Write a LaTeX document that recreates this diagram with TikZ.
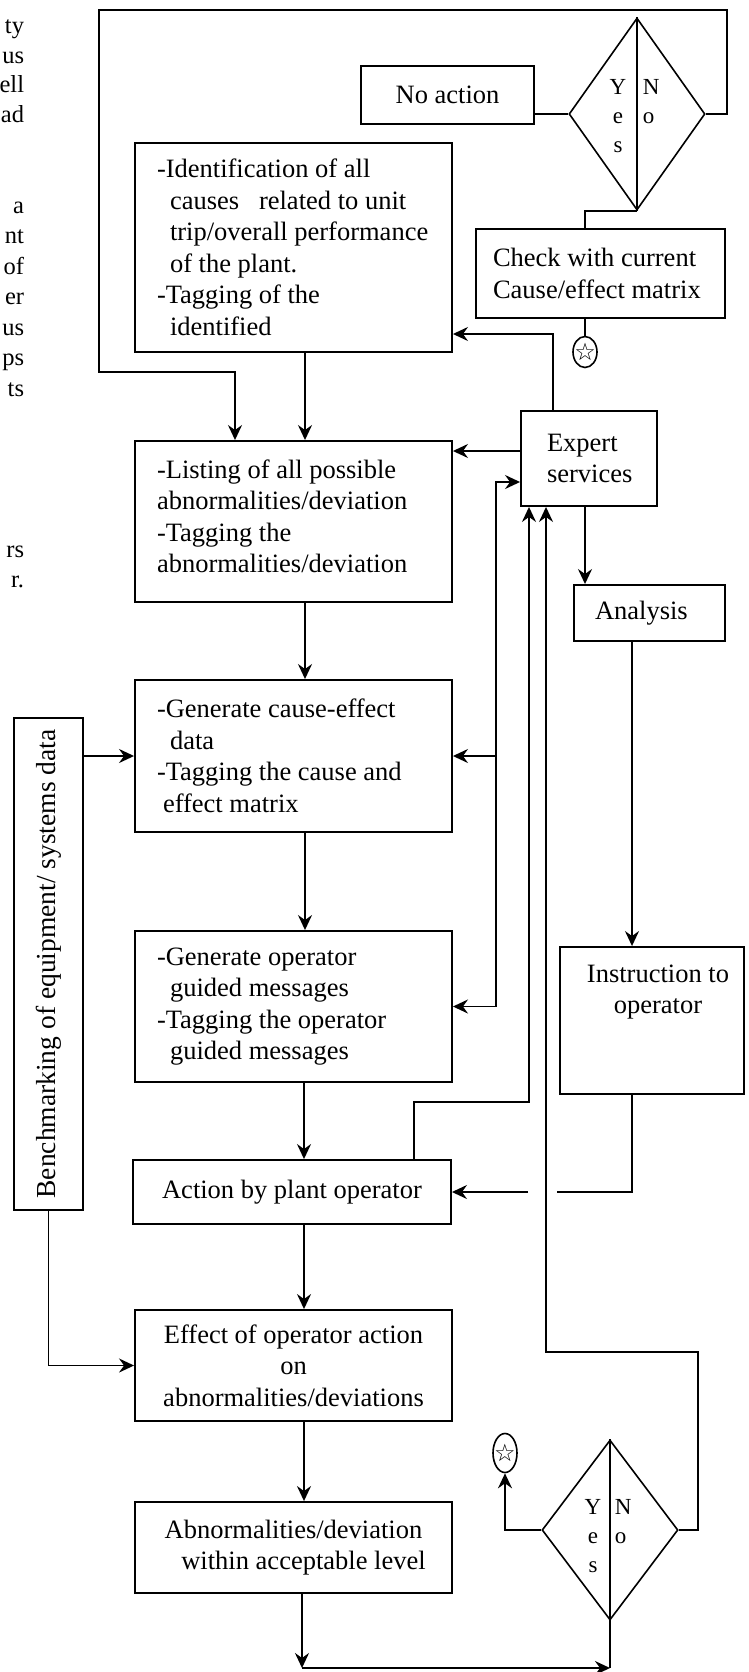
\documentclass[tikz,border=0pt]{standalone}
\usepackage{fontspec}
\setmainfont{Liberation Serif}
\newfontfamily\dejavu{DejaVu Sans}
\usepackage{graphicx}
\usetikzlibrary{arrows.meta,shapes.geometric,calc}
\newcommand{\starglyph}{\smash{\dejavu\fontsize{24pt}{24pt}\selectfont\raisebox{-0.36em}{\makebox[0pt]{☆}}}}
\begin{document}
\begin{tikzpicture}[x=1pt,y=-1pt,line width=1.9pt,
  txt/.style={font=\fontsize{26.5pt}{31.5pt}\selectfont},
  box/.style={draw, rectangle, line width=1.9pt, inner ysep=0pt, txt},
  lbox/.style={box, align=flush left, inner xsep=22pt, text width=273pt},
  arr/.style={-{Stealth[length=15pt,width=14pt,inset=5pt]}},
  dia/.style={draw, diamond, inner sep=0pt, line width=1.6pt, minimum width=136pt},
  yn/.style={font=\fontsize{23pt}{29pt}\selectfont, inner sep=0pt},
  starc/.style={draw, ellipse, inner sep=0pt, line width=1.6pt, minimum width=24pt},
  frag/.style={font=\fontsize{24.5pt}{30pt}\selectfont, anchor=base east, inner sep=0pt}]
\useasboundingbox (0,0) rectangle (749,1672);

% fragments of page text at the left edge
\node[frag] (f1) at (25,34) {ty};
\node[frag] (f2) at (25,64) {us};
\node[frag] (f3) at (25,93) {ell};
\node[frag] (f4) at (25,123) {ad};
\node[frag] (f5) at (25,213) {a};
\node[frag] (f6) at (25,243) {nt};
\node[frag] (f7) at (25,274) {of};
\node[frag] (f8) at (25,304) {er};
\node[frag] (f9) at (25,335) {us};
\node[frag] (f10) at (25,365) {ps};
\node[frag] (f11) at (25,396) {ts};
\node[frag] (f12) at (25,557) {rs};
\node[frag] (f13) at (25,587) {r.};

% nodes
\node[box, minimum width=173pt, minimum height=58pt, inner xsep=0pt] (noact) at (447.5,95) {No action};
\node[dia, minimum height=192pt] (d1) at (637,114) {};
\draw[line width=1.6pt] (d1.north) -- (d1.south);
\node[yn, align=center] (d1y) at (618,116) {Y\\e\\s};
\node[yn, align=left, anchor=west] (d1n) at (642,102) {N\\o};

\node[box, align=flush left, inner xsep=17pt, text width=215pt, minimum height=89pt] (check) at (600.5,273.5)
  {\mbox{Check with current}\\\mbox{Cause/effect matrix}};
\node[starc, minimum height=31pt] (star1) at (585,352) {\starglyph};

\node[lbox, minimum height=209pt] (box1) at (293.5,247.5)
  {\mbox{-Identification of all}\\
   \mbox{\hspace*{13pt}causes\ \ \ related to unit}\\
   \mbox{\hspace*{13pt}trip/overall performance}\\
   \mbox{\hspace*{13pt}of the plant.}\\
   \mbox{-Tagging of the}\\
   \mbox{\hspace*{13pt}identified}};

\node[box, align=flush left, inner xsep=26pt, text width=84pt, minimum height=95pt] (expert) at (589,458.5)
  {\mbox{Expert}\\\mbox{services}};

\node[lbox, minimum height=161pt] (box2) at (293.5,521.5)
  {\mbox{-Listing of all possible}\\
   \mbox{abnormalities/deviation}\\
   \mbox{-Tagging the}\\
   \mbox{abnormalities/deviation}\\[-20.5pt]\mbox{}};

\node[box, align=flush left, inner xsep=21pt, text width=109pt, minimum height=56pt] (analysis) at (649.5,613) {\mbox{Analysis}};

\node[lbox, minimum height=152pt] (box3) at (293.5,756)
  {\mbox{-Generate cause-effect}\\
   \mbox{\hspace*{13pt}data}\\
   \mbox{-Tagging the cause and}\\
   \mbox{\hspace*{6pt}effect matrix}};

\node[box, minimum width=184pt, minimum height=147pt] (instr) at (652,1020.5) {};
\node[txt, align=center, inner sep=0pt] (instrt) at (658,992) {Instruction to\\operator};

\node[lbox, minimum height=151pt] (box4) at (293.5,1006.5)
  {\mbox{-Generate operator}\\
   \mbox{\hspace*{13pt}guided messages}\\
   \mbox{-Tagging the operator}\\
   \mbox{\hspace*{13pt}guided messages}};

\node[box, minimum width=318pt, minimum height=64pt, inner xsep=0pt] (action) at (292,1192) {Action by plant operator};

\node[box, minimum width=69pt, minimum height=492pt, inner sep=0pt, font=\fontsize{27.5pt}{31.5pt}\selectfont] (bench) at (48.5,964)
  {\rotatebox{90}{Benchmarking of equipment/ systems data}};

\node[box, minimum width=317pt, minimum height=111pt, inner xsep=0pt, align=center] (effect) at (293.5,1365.5)
  {Effect of operator action\\on\\abnormalities/deviations};

\node[box, minimum width=317pt, minimum height=91pt, inner xsep=0pt, align=center] (abnorm) at (293.5,1547.5)
  {Abnormalities/deviation\\\hspace*{20pt}within acceptable level};

\node[dia, minimum height=180pt] (d2) at (610,1530) {};
\draw[line width=1.6pt] (d2.north) -- (d2.south);
\node[yn, align=center] (d2y) at (593,1536) {Y\\e\\s};
\node[yn, align=left, anchor=west] (d2n) at (614,1522) {N\\o};
\node[starc, minimum height=39pt] (star2) at (505,1453) {\starglyph};

% coordinates for bends
\coordinate (tl) at (99,10);
\coordinate (tr) at (727,10);
\coordinate (lb) at (99,372);
\coordinate (lx) at (235,372);
\coordinate (ax) at (305,0);
\coordinate (bx) at (304,0);
\coordinate (e1) at (553,334);
\coordinate (ix) at (632,0);
\coordinate (h1) at (557,0);
\coordinate (h2) at (528,0);
\coordinate (v1) at (496,482);
\coordinate (v2a) at (414,1102);
\coordinate (v2b) at (529,1102);
\coordinate (v3a) at (698,1352);
\coordinate (v3b) at (546,1352);
\coordinate (bl) at (302,1668);

% connectors
\draw[arr] (d1.east) -| (tr) -- (tl) -- (lb) -- (lx) -- (lx |- box2.north);
\draw (noact.east |- d1.west) -- (d1.west);
\draw (d1.south) -| (check.north -| star1);
\draw (check.south -| star1) -- (star1.north);
\draw[arr] (box1.south -| ax) -- (box2.north -| ax);
\draw[arr] (expert.north -| e1) -- (e1) -- (e1 -| box1.east);
\draw[arr] ([yshift=7.5pt]expert.west) -- ([yshift=7.5pt]expert.west -| box2.east);
\draw[arr] (expert.south -| star1) -- (analysis.north -| star1);
\draw[arr] (analysis.south -| ix) -- (instr.north -| ix);
\draw (instr.south -| ix) |- (action.east -| h1);
\draw[arr] (action.east -| h2) -- (action.east);
\draw[arr] (box4.east -| v1) -- (v1) -- (v1 -| expert.west);
\draw[arr] (box4.east -| v1) -- (box4.east);
\draw[arr] (box3.east -| v1) -- (box3.east);
\draw[arr] (action.north -| v2a) -- (v2a) -- (v2b) -- (v2b |- expert.south);
\draw[arr] (d2.east) -| (v3a) -- (v3b) -- (v3b |- expert.south);
\draw[arr] (bench.east |- box3.west) -- (box3.west);
\draw[arr] (bench.south) |- (effect.west);
\draw[arr] (box2.south -| ax) -- (box3.north -| ax);
\draw[arr] (box3.south -| ax) -- (box4.north -| ax);
\draw[arr] (box4.south -| bx) -- (action.north -| bx);
\draw[arr] (action.south -| bx) -- (effect.north -| bx);
\draw[arr] (effect.south -| bx) -- (abnorm.north -| bx);
\draw[arr] (abnorm.south -| bl) -- (bl);
\draw[arr] (bl) -- (bl -| d2.south);
\draw (bl -| d2.south) -- (d2.south);
\draw[arr] (d2.west) -| (star2.south);
\end{tikzpicture}
\end{document}
